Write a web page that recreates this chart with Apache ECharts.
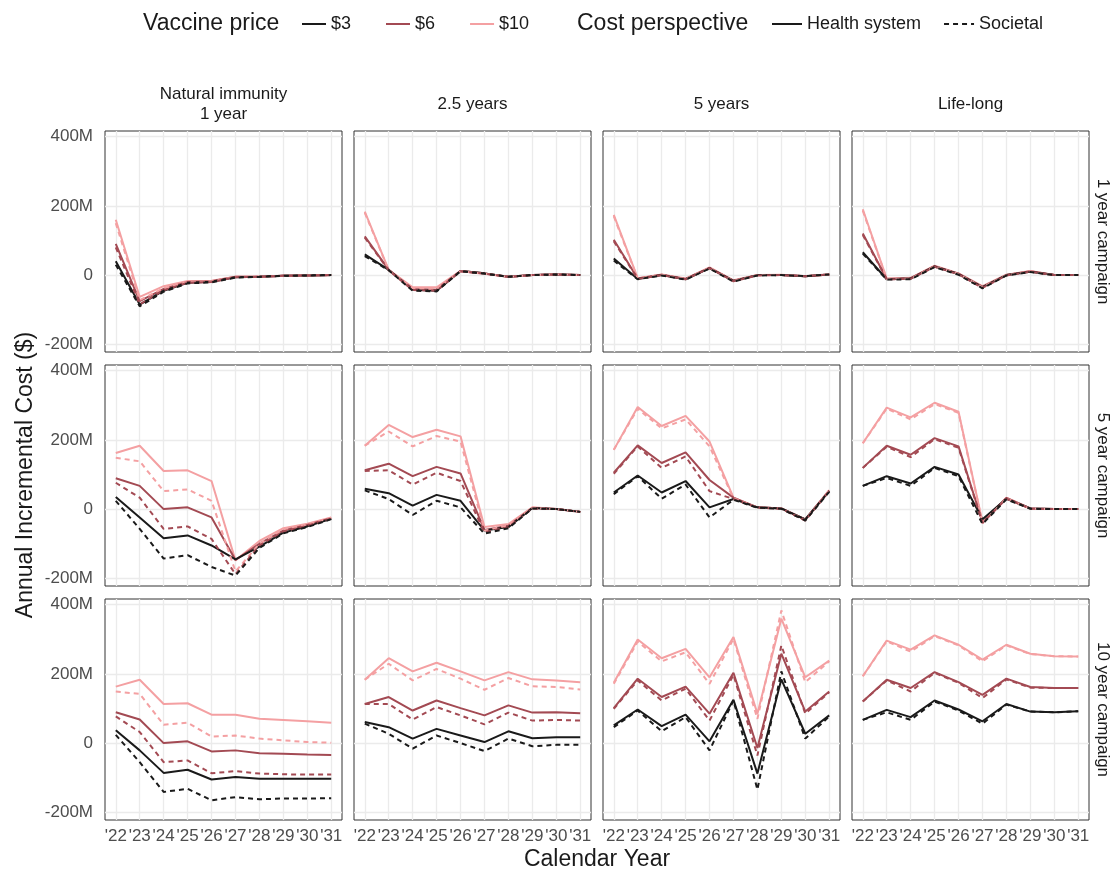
<!DOCTYPE html>
<html><head><meta charset="utf-8">
<script src="https://cdn.jsdelivr.net/npm/echarts@6/dist/echarts.min.js"></script>
<style>html,body{margin:0;padding:0;background:#fff}#c{width:1114px;height:873px}</style>
</head><body><div id="c"></div>
<script>
const years = [2022, 2023, 2024, 2025, 2026, 2027, 2028, 2029, 2030, 2031];
const yTicks = [-200, 0, 200, 400];
const prices = ['$3', '$6', '$10'];
const perspectives = ['Health system', 'Societal'];
const immunityLabels = ['Natural immunity\n1 year', '2.5 years', '5 years', 'Life-long'];
const campaignLabels = ['1 year campaign', '5 year campaign', '10 year campaign'];

// Annual incremental cost in $M; each array: [$3, $6, $10]
// ---- 1 year campaign ----
const camp1_nat1_hs = [
  [40, -85, -45, -22, -19, -6, -5, -2, -1, 0],
  [90, -75, -40, -20, -18, -5, -5, -2, -1, 0],
  [160, -63, -32, -17, -16, -5, -4, -2, -1, 0]];
const camp1_nat1_soc = [
  [30, -90, -48, -24, -21, -7, -5, -2, -1, 0],
  [80, -84, -44, -22, -20, -6, -5, -2, -1, 0],
  [150, -72, -38, -20, -18, -5, -5, -2, -1, 0]];
const camp1_nat25_hs = [
  [60, 15, -42, -45, 12, 5, -5, 0, 2, 0],
  [112, 15, -40, -42, 12, 5, -5, 0, 2, 0],
  [183, 15, -35, -35, 12, 5, -5, 0, 2, 0]];
const camp1_nat25_soc = [
  [55, 14, -45, -47, 11, 4, -5, 0, 2, 0],
  [108, 14, -43, -45, 11, 4, -5, 0, 2, 0],
  [180, 14, -38, -40, 11, 4, -5, 0, 2, 0]];
const camp1_nat5_hs = [
  [48, -11, 0, -12, 20, -17, 0, 0, -3, 2],
  [102, -10, 1, -11, 21, -16, 0, 0, -3, 2],
  [174, -9, 2, -10, 22, -15, 0, 1, -3, 2]];
const camp1_nat5_soc = [
  [42, -12, -1, -13, 19, -19, -1, 0, -3, 2],
  [98, -11, 0, -12, 20, -18, -1, 0, -3, 2],
  [170, -10, 1, -11, 21, -17, 0, 0, -3, 2]];
const camp1_life_hs = [
  [66, -12, -10, 25, 3, -35, 0, 10, 0, 0],
  [120, -11, -9, 26, 4, -34, 0, 11, 0, 0],
  [190, -10, -8, 27, 5, -32, 1, 12, 0, 0]];
const camp1_life_soc = [
  [62, -13, -12, 23, 1, -38, -1, 9, 0, 0],
  [116, -12, -11, 24, 2, -37, -1, 10, 0, 0],
  [186, -11, -10, 25, 3, -35, 0, 11, 0, 0]];
// ---- 5 year campaign ----
const camp5_nat1_hs = [
  [35, -24, -84, -76, -105, -145, -108, -68, -50, -28],
  [89, 67, 0, 5, -24, -147, -100, -62, -46, -26],
  [162, 183, 110, 112, 81, -148, -92, -55, -42, -24]];
const camp5_nat1_soc = [
  [24, -57, -143, -133, -167, -192, -112, -70, -52, -29],
  [76, 33, -57, -50, -86, -188, -105, -65, -48, -27],
  [148, 138, 52, 57, 24, -180, -100, -58, -44, -25]];
const camp5_nat25_hs = [
  [59, 46, 10, 41, 24, -62, -52, 3, 0, -8],
  [112, 131, 95, 122, 103, -60, -48, 3, 0, -8],
  [183, 243, 208, 229, 210, -52, -43, 5, 0, -8]];
const camp5_nat25_soc = [
  [54, 29, -17, 24, 5, -71, -55, 2, 0, -8],
  [110, 112, 71, 105, 81, -67, -52, 2, 0, -8],
  [183, 224, 181, 211, 195, -62, -47, 4, 0, -8]];
const camp5_nat5_hs = [
  [48, 97, 48, 81, 5, 29, 5, 2, -30, 52],
  [105, 184, 133, 164, 84, 33, 5, 2, -30, 53],
  [171, 295, 240, 269, 195, 33, 5, 2, -30, 55]];
const camp5_nat5_soc = [
  [43, 95, 30, 71, -24, 27, 4, 1, -33, 50],
  [102, 181, 119, 152, 52, 29, 4, 1, -33, 52],
  [171, 290, 233, 259, 181, 31, 5, 2, -32, 54]];
const camp5_life_hs = [
  [67, 95, 74, 122, 100, -29, 30, 2, 0, 0],
  [119, 183, 157, 205, 181, -38, 32, 2, 0, 0],
  [190, 293, 265, 307, 281, -38, 33, 2, 0, 0]];
const camp5_life_soc = [
  [67, 90, 67, 119, 95, -43, 28, 1, 0, 0],
  [119, 180, 150, 202, 177, -40, 30, 1, 0, 0],
  [190, 290, 259, 303, 278, -40, 31, 1, 0, 0]];
// ---- 10 year campaign ----
const camp10_nat1_hs = [
  [37, -21, -86, -77, -105, -98, -103, -103, -103, -103],
  [89, 68, 0, 5, -24, -21, -29, -31, -33, -34],
  [163, 183, 113, 115, 82, 82, 70, 67, 63, 59]];
const camp10_nat1_soc = [
  [24, -55, -141, -132, -165, -156, -162, -160, -160, -159],
  [77, 32, -55, -50, -87, -81, -88, -90, -91, -91],
  [149, 142, 53, 59, 19, 22, 13, 8, 3, 1]];
const camp10_nat25_hs = [
  [61, 46, 13, 41, 22, 3, 34, 14, 17, 17],
  [113, 133, 94, 123, 101, 80, 109, 88, 89, 86],
  [183, 245, 207, 232, 207, 181, 205, 184, 181, 176]];
const camp10_nat25_soc = [
  [56, 27, -16, 22, 0, -23, 13, -9, -5, -5],
  [113, 113, 68, 104, 80, 54, 88, 65, 67, 65],
  [183, 229, 181, 214, 186, 154, 188, 164, 162, 155]];
const camp10_nat5_hs = [
  [51, 97, 49, 82, 5, 125, -88, 184, 27, 80],
  [101, 186, 133, 163, 85, 203, -14, 258, 91, 149],
  [174, 299, 245, 272, 190, 306, 85, 359, 190, 238]];
const camp10_nat5_soc = [
  [46, 94, 34, 75, -21, 123, -134, 207, 13, 77],
  [99, 181, 123, 157, 65, 197, -36, 282, 85, 147],
  [171, 293, 236, 262, 171, 301, 70, 383, 176, 236]];
const camp10_life_hs = [
  [67, 96, 75, 123, 97, 63, 113, 91, 89, 92],
  [120, 183, 159, 205, 176, 139, 186, 162, 159, 159],
  [193, 296, 270, 311, 284, 241, 284, 258, 251, 250]];
const camp10_life_soc = [
  [67, 89, 67, 120, 94, 56, 111, 91, 89, 92],
  [120, 181, 149, 203, 174, 130, 184, 160, 159, 159],
  [193, 294, 264, 309, 282, 236, 282, 257, 251, 250]];

// panel table [row][col] = [health system, societal]
const panels = [
  [[camp1_nat1_hs, camp1_nat1_soc], [camp1_nat25_hs, camp1_nat25_soc], [camp1_nat5_hs, camp1_nat5_soc], [camp1_life_hs, camp1_life_soc]],
  [[camp5_nat1_hs, camp5_nat1_soc], [camp5_nat25_hs, camp5_nat25_soc], [camp5_nat5_hs, camp5_nat5_soc], [camp5_life_hs, camp5_life_soc]],
  [[camp10_nat1_hs, camp10_nat1_soc], [camp10_nat25_hs, camp10_nat25_soc], [camp10_nat5_hs, camp10_nat5_soc], [camp10_life_hs, camp10_life_soc]]
];

const FONT = 'Liberation Sans, Arial, Helvetica, sans-serif';
const priceColors = ['#1a1a1a', '#a34a53', '#f4a0a2'];
const dashPattern = [5, 4];
const colLeft = [105, 354, 603, 852];
const rowTop = [131, 365, 599];
const panelW = 237, panelH = 221;
const gridColor = '#ebebeb';
const axisTextColor = '#4d4d4d';

const grids = [], xAxes = [], yAxes = [], series = [];
for (let r = 0; r < 3; r++) {
  for (let c = 0; c < 4; c++) {
    const idx = r * 4 + c;
    grids.push({left: colLeft[c], top: rowTop[r], width: panelW, height: panelH,
      show: true, backgroundColor: '#fff', borderColor: '#333', borderWidth: 1});
    xAxes.push({gridIndex: idx, type: 'value', min: 2021.55, max: 2031.45,
      axisLine: {show: false}, axisTick: {show: false, customValues: years},
      axisLabel: {show: r === 2, customValues: years, color: axisTextColor, fontSize: 17, fontFamily: FONT, margin: 8,
        formatter: v => "'" + String(v).slice(2)},
      splitLine: {show: true, lineStyle: {color: gridColor, width: 1.3}}});
    yAxes.push({gridIndex: idx, type: 'value', min: -222, max: 416,
      axisLine: {show: false}, axisTick: {show: false, customValues: yTicks},
      axisLabel: {show: c === 0, customValues: yTicks, color: axisTextColor, fontSize: 17, fontFamily: FONT, margin: 12,
        formatter: v => v === 0 ? '0' : v + 'M'},
      splitLine: {show: true, lineStyle: {color: gridColor, width: 1.3}}});
    for (let p = 0; p < 2; p++) {
      for (let k = 2; k >= 0; k--) {
        const vals = panels[r][c][p][k];
        series.push({type: 'line', name: prices[k], xAxisIndex: idx, yAxisIndex: idx,
          data: years.map((y, i) => [y, vals[i]]), symbol: 'none', showSymbol: false,
          color: priceColors[k], silent: true, animation: false,
          lineStyle: {width: 2, color: priceColors[k], type: p === 0 ? 'solid' : dashPattern}});
      }
    }
  }
}
// legend-only series for the cost perspective
series.push({type: 'line', name: perspectives[0], xAxisIndex: 0, yAxisIndex: 0, data: [], symbol: 'none', color: '#1a1a1a', lineStyle: {width: 2, type: 'solid'}});
series.push({type: 'line', name: perspectives[1], xAxisIndex: 0, yAxisIndex: 0, data: [], symbol: 'none', color: '#1a1a1a', lineStyle: {width: 2, type: dashPattern}});

const graphics = [];
const txt = (text, x, y, size, opts = {}) => Object.assign({type: 'text', x, y, silent: true,
  style: Object.assign({text, font: size + 'px ' + FONT, fill: '#1a1a1a', align: 'center', verticalAlign: 'middle'}, opts.style || {})}, opts.el || {});
graphics.push(txt('Vaccine price', 143, 24, 23, {style: {align: 'left'}}));
graphics.push(txt('Cost perspective', 577, 24, 23, {style: {align: 'left'}}));
for (let c = 0; c < 4; c++) graphics.push(txt(immunityLabels[c], colLeft[c] + panelW / 2, 104, 17, {style: {lineHeight: 20}}));
for (let r = 0; r < 3; r++) graphics.push(txt(campaignLabels[r], 1103, rowTop[r] + panelH / 2, 17, {el: {rotation: -Math.PI / 2}}));
graphics.push(txt('Annual Incremental Cost ($)', 26, 475, 23, {el: {rotation: Math.PI / 2}}));
graphics.push(txt('Calendar Year', colLeft[0] + (colLeft[3] + panelW - colLeft[0]) / 2, 860, 23));

const legendCommon = {top: 10, itemHeight: 14, selectedMode: false,
  itemStyle: {opacity: 0, borderWidth: 0},
  textStyle: {fontSize: 18, fontFamily: FONT, color: '#1a1a1a'}};

const chart = echarts.init(document.getElementById('c'), null, {renderer: 'canvas'});
chart.setOption({
  animation: false,
  backgroundColor: '#fff',
  grid: grids, xAxis: xAxes, yAxis: yAxes, series,
  legend: [
    Object.assign({data: prices, left: 296, itemWidth: 24, itemGap: 34}, legendCommon),
    Object.assign({data: perspectives, left: 766, itemWidth: 30, itemGap: 22}, legendCommon)
  ],
  graphic: graphics
});
</script></body></html>
